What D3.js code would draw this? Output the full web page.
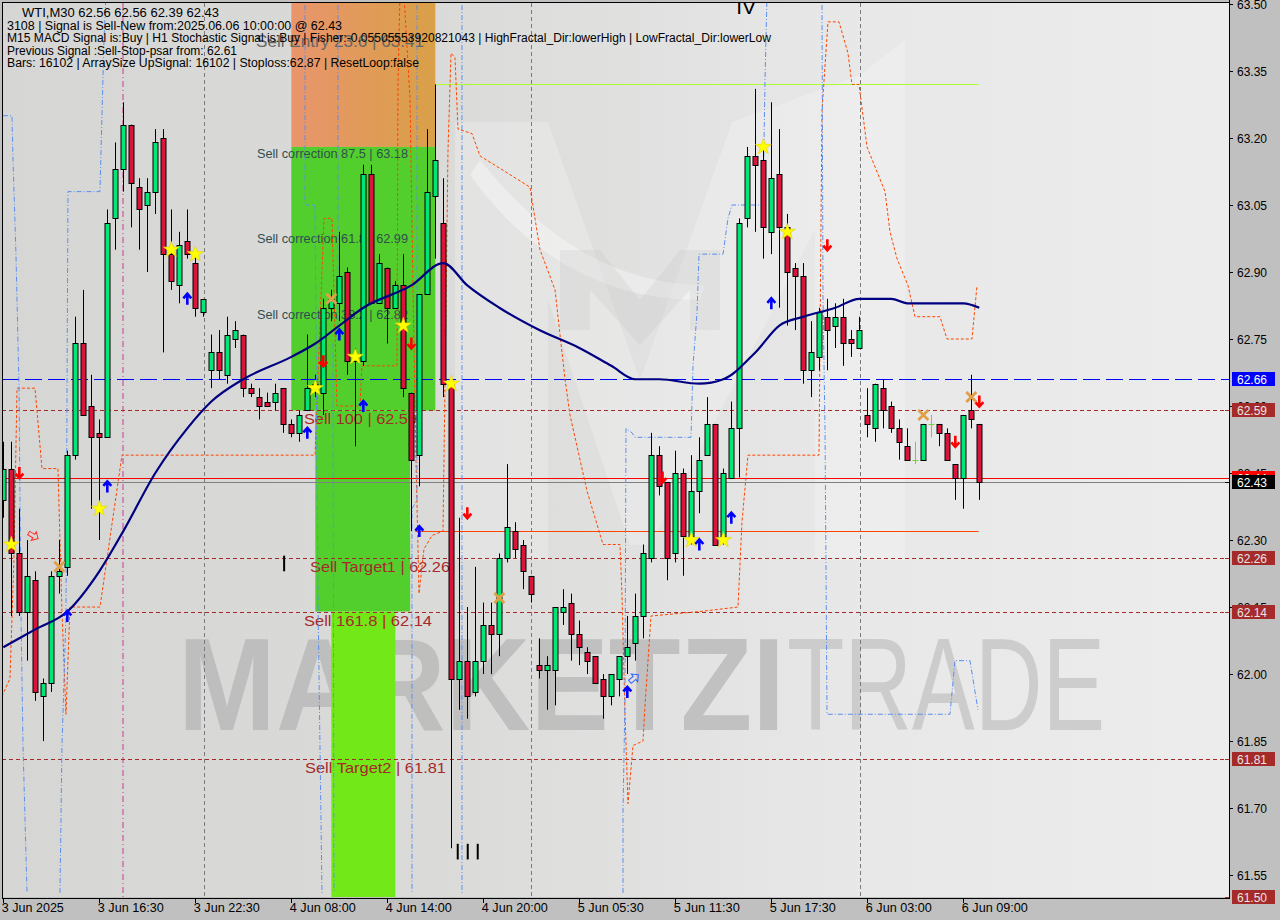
<!DOCTYPE html>
<html><head><meta charset="utf-8">
<script src="https://cdn.jsdelivr.net/npm/d3@7"></script>
<style>html,body{margin:0;padding:0;background:#c0c0c0;overflow:hidden}svg{display:block}</style>
</head><body>
<svg id="c" width="1280" height="920"></svg>
<script>
// ---------- DATA ----------
const open=[62.39,62.46,62.27,62.14,62.21,61.95,61.98,62.22,62.24,62.49,62.74,62.60,62.54,62.53,63.02,63.13,63.23,63.09,63.05,63.08,63.20,62.94,62.87,62.97,62.92,62.81,62.68,62.72,62.67,62.75,62.76,62.64,62.62,62.61,62.61,62.64,62.56,62.54,62.59,62.64,62.63,62.82,62.83,62.90,62.70,62.70,63.12,62.83,62.91,62.82,62.87,62.63,62.49,62.85,63.07,63.01,62.65,61.99,62.03,61.96,62.03,62.11,62.09,62.26,62.32,62.29,62.22,62.02,62.01,62.01,62.14,62.16,62.09,62.05,62.04,61.99,61.95,61.99,62.04,62.07,62.13,62.26,62.49,62.43,62.27,62.45,62.31,62.41,62.49,62.56,62.31,62.44,62.55,63.02,63.16,63.15,62.99,63.12,63.00,62.91,62.89,62.68,62.71,62.80,62.78,62.80,62.75,62.73,62.58,62.55,62.64,62.60,62.55,62.51,62.48,62.48,62.56,62.56,62.54,62.47,62.44,62.59,62.56];
const high=[62.52,62.52,62.37,62.30,62.23,61.99,62.23,62.30,62.50,62.80,62.86,62.67,62.57,63.04,63.19,63.28,63.23,63.11,63.11,63.22,63.22,63.04,62.99,63.04,62.94,62.84,62.76,62.77,62.80,62.79,62.76,62.65,62.64,62.63,62.65,62.64,62.57,62.59,62.76,62.67,62.84,62.86,62.99,62.91,62.73,63.14,63.14,62.94,62.91,62.88,62.94,62.63,62.85,63.22,63.32,63.11,62.66,62.35,62.15,62.24,62.16,62.16,62.27,62.47,62.34,62.30,62.22,62.08,62.04,62.15,62.19,62.18,62.12,62.06,62.04,62.00,62.00,62.04,62.13,62.18,62.29,62.54,62.51,62.43,62.50,62.46,62.49,62.53,62.62,62.56,62.46,62.61,63.02,63.18,63.31,63.18,63.28,63.22,63.03,62.92,62.92,62.79,62.82,62.84,62.83,62.84,62.77,62.80,62.64,62.65,62.66,62.61,62.57,62.55,62.52,62.56,62.58,62.56,62.55,62.47,62.58,62.67,62.56];
const low=[62.35,62.13,62.13,62.03,61.94,61.85,61.96,62.18,62.22,62.48,62.58,62.37,62.30,62.53,62.95,63.08,63.00,62.95,62.90,63.03,62.72,62.86,62.83,62.93,62.80,62.80,62.64,62.66,62.65,62.73,62.62,62.62,62.57,62.60,62.59,62.54,62.53,62.52,62.59,62.62,62.58,62.79,62.79,62.67,62.51,62.69,62.83,62.83,62.74,62.82,62.62,62.32,62.42,62.85,62.93,62.62,61.61,61.92,61.90,61.95,62.00,62.00,62.04,62.25,62.26,62.19,62.16,61.99,61.92,61.93,62.11,62.03,62.02,62.00,61.98,61.90,61.93,61.95,62.00,62.03,62.08,62.25,62.40,62.21,62.25,62.22,62.29,62.36,62.49,62.29,62.29,62.44,62.44,63.00,62.99,62.93,62.94,62.82,62.78,62.77,62.65,62.62,62.68,62.68,62.73,62.69,62.71,62.73,62.53,62.52,62.55,62.54,62.48,62.48,62.47,62.48,62.53,62.51,62.48,62.39,62.37,62.55,62.39];
const close=[62.46,62.27,62.14,62.22,61.96,61.98,62.22,62.23,62.49,62.74,62.58,62.53,62.53,63.01,63.13,63.23,63.10,63.04,63.08,63.19,62.94,62.88,62.96,62.94,62.82,62.84,62.72,62.68,62.76,62.77,62.64,62.63,62.60,62.60,62.63,62.56,62.54,62.58,62.64,62.65,62.82,62.84,62.89,62.70,62.71,63.12,62.83,62.92,62.82,62.87,62.64,62.48,62.85,63.08,63.15,62.65,61.99,62.03,61.95,62.03,62.11,62.09,62.26,62.33,62.28,62.23,62.18,62.01,62.02,62.15,62.15,62.09,62.06,62.03,61.98,61.95,62.00,62.04,62.06,62.13,62.27,62.49,62.42,62.26,62.45,62.31,62.41,62.48,62.56,62.29,62.45,62.55,63.01,63.16,63.14,63.00,63.11,63.00,62.90,62.89,62.68,62.72,62.81,62.77,62.80,62.74,62.74,62.77,62.56,62.65,62.59,62.55,62.52,62.48,62.48,62.56,62.56,62.54,62.48,62.44,62.58,62.57,62.43];

const timeLabels=["3 Jun 2025","3 Jun 16:30","3 Jun 22:30","4 Jun 08:00","4 Jun 14:00","4 Jun 20:00","5 Jun 05:30","5 Jun 11:30","5 Jun 17:30","6 Jun 03:00","6 Jun 09:00"];
const timeLabelBars=[0,12,24,36,48,60,72,84,96,108,120];
const priceTicks=[61.55,61.70,61.85,62.00,62.15,62.30,62.45,62.60,62.75,62.90,63.05,63.20,63.35,63.50];

// moving average (bar, value)
const maBars=[0,4,8,12,15,19,23,26,30,36,39,42,45,51,55,58,62,67,72,76,79,82,87,90,94,97,100,104,107,111,113,120,122];
const maVals=[62.06,62.10,62.14,62.23,62.32,62.45,62.55,62.61,62.66,62.71,62.74,62.78,62.82,62.87,62.92,62.87,62.82,62.77,62.73,62.69,62.66,62.66,62.65,62.66,62.72,62.78,62.80,62.82,62.84,62.84,62.83,62.83,62.82];

// orange dashed band (bar, price)
const bandBars=[-0.17,0.83,1.33,1.71,3.96,4.83,6.83,7.33,7.83,8.33,12.08,14.83,38.96,40.08,41.08,41.71,44.58,44.83,49.21,49.33,49.58,50.08,50.83,51.21,51.58,51.96,52.58,53.58,54.96,55.21,55.58,55.96,56.46,56.83,58.58,59.58,65.83,67.08,68.96,70.21,70.83,71.71,72.96,74.96,77.08,77.33,77.71,78.08,78.71,79.96,80.21,80.96,87.08,91.83,92.33,93.08,101.96,102.33,103.08,104.46,105.58,106.08,106.96,107.96,110.21,110.83,111.71,113.08,113.96,117.08,117.96,121.08,121.71];
const bandVals=[61.95,61.99,62.26,62.64,62.64,62.46,62.46,62.14,61.91,62.15,62.15,62.49,62.49,63.02,63.02,62.60,62.60,62.69,62.69,63.32,63.52,63.52,63.29,62.86,62.48,62.18,62.28,62.31,62.32,62.65,63.17,63.39,63.38,63.22,63.21,63.16,63.09,62.95,62.86,62.66,62.58,62.51,62.41,62.29,62.29,62.18,61.91,61.71,61.84,61.85,61.93,62.13,62.14,62.15,62.34,62.49,62.49,63.26,63.46,63.46,63.39,63.32,63.32,63.18,63.08,62.99,62.93,62.87,62.80,62.80,62.75,62.75,62.87];

// blue fractal step lines (bar, price), null = break
const fracBars=[-0.04,1.08,1.21,1.58,1.96,2.21,2.46,2.96,null,7.08,7.33,7.83,8.08,12.08,12.21,12.58,12.83,null,37.71,37.71,38.96,39.33,39.83,null,41.83,41.83,41.21,41.33,null,51.71,51.71,51.08,51.08,null,57.33,57.33,null,77.46,77.46,77.71,77.83,78.58,78.96,85.96,86.21,86.71,86.96,89.96,90.58,91.08,94.96,95.21,95.46,null,102.33,102.46,102.71,102.96,118.33,118.96,120.83,121.83];
const fracVals=[63.25,63.25,63.15,62.94,62.64,62.13,61.84,61.51,null,61.51,61.84,62.13,63.08,63.08,63.17,63.42,63.52,null,63.52,63.05,63.05,62.17,61.51,null,63.52,62.75,62.74,61.51,null,63.52,62.39,62.37,61.51,null,63.52,61.51,null,61.51,61.69,61.95,62.55,62.54,62.53,62.53,62.69,62.81,62.94,62.94,63.02,63.05,63.05,63.33,63.52,null,63.52,62.84,62.55,61.91,61.91,62.03,62.03,61.92];

// signals
const starBars=[1,12,21,24,39,44,50,56,86,90,95,98];
const starVals=[62.29,62.37,62.95,62.94,62.64,62.71,62.78,62.65,62.30,62.30,63.18,62.99];
const upBars=[8,13,23,38,42,45,52,78,87,91,96];
const upVals=[62.13,62.42,62.84,62.54,62.76,62.60,62.32,61.96,62.29,62.35,62.83];
const downBars=[2,40,51,58,82.4,103,119,122];
const downVals=[62.45,62.70,62.74,62.36,62.44,62.96,62.52,62.61];
const crossBars=[7,41,62,115,121];
const crossVals=[62.24,62.84,62.17,62.58,62.62];

// levels
const levelPrices=[62.66,62.59,62.26,62.14,61.81,61.50];
const levelKinds=["blue","brown","brown","brown","brown","brown"];
const bidPrice=62.43, askLine=62.44;
const stopLevel=62.32, entryLevel=63.32;
const boxBars=[[36,54],[36,54],[39,50.85],[41,49]];
const boxTops=[63.70,63.18,62.59,62.14];
const boxBottoms=[63.18,62.59,62.14,61.45];
const fibTexts=["Sell Entry 23.6 | 63.41","Sell correction 87.5 | 63.18","Sell correction 61.8 | 62.99","Sell correction 38.2 | 62.82"];
const fibPrices=[63.41,63.18,62.99,62.82];
const tgtTexts=["Sell 100 | 62.59","Sell Target1 | 62.26","Sell 161.8 | 62.14","Sell Target2 | 61.81"];
const tgtPrices=[62.59,62.26,62.14,61.81];
const axisMarks=[62.66,62.59,62.44,62.43,62.26,62.14,61.81,61.50];
const axisMarkKinds=["blue","brown","red","black","brown","brown","brown","brown"];
const headerLines=["WTI,M30  62.56 62.56 62.39 62.43","3108 | Signal is Sell-New from:2025.06.06 10:00:00 @ 62.43","M15 MACD Signal is:Buy | H1 Stochastic Signal is:Buy | Fisher:-0.05505553920821043 | HighFractal_Dir:lowerHigh | LowFractal_Dir:lowerLow","Previous Signal :Sell-Stop-psar from: 62.61","Bars: 16102 | ArraySize UpSignal: 16102 | Stoploss:62.87 | ResetLoop:false"];

// ---------- DRAW ----------
const svg=d3.select("#c");
const PL=2,PT=3,PR=1229,PB=897;
const x=d3.scaleLinear().domain([0,122]).range([3.33,979.33]);
const y=d3.scaleLinear().domain([61.5,63.5]).range([897.4,4]);
const FONT="'Liberation Sans', Arial, sans-serif";

const defs=svg.append("defs");
defs.append("clipPath").attr("id","plot").append("rect").attr("x",PL).attr("y",PT).attr("width",PR-PL).attr("height",PB-PT);
const bgGrad=defs.append("linearGradient").attr("id","bg").attr("x1","0").attr("x2","1").attr("y1","0").attr("y2","0");
bgGrad.append("stop").attr("offset","0").attr("stop-color","#d6d6d5");
bgGrad.append("stop").attr("offset","0.35").attr("stop-color","#dadad9");
bgGrad.append("stop").attr("offset","0.7").attr("stop-color","#e8e8e8");
bgGrad.append("stop").attr("offset","1").attr("stop-color","#ececec");
const orGrad=defs.append("linearGradient").attr("id","org").attr("x1","0").attr("x2","1").attr("y1","0").attr("y2","0");
orGrad.append("stop").attr("offset","0").attr("stop-color","#e9956c");
orGrad.append("stop").attr("offset","1").attr("stop-color","#d9a048");

svg.append("rect").attr("x",0).attr("y",0).attr("width",1280).attr("height",920).attr("fill","#c0c0c0");
const g=svg.append("g").attr("clip-path","url(#plot)");
g.append("rect").attr("x",PL).attr("y",PT).attr("width",PR-PL).attr("height",PB-PT).attr("fill","url(#bg)");

// watermark logo (soft)
g.append("path").attr("d","M455,560 L455,122 L548,122 L640,380 L732,122 L860,75 L905,40 L905,560 L815,560 L815,230 L650,545 L630,545 L548,300 L548,560 Z")
 .attr("fill","#ffffff").attr("opacity",0.22);
g.append("path").attr("d","M470,175 Q560,300 700,300 L705,285 Q580,285 480,160 Z").attr("fill","#ffffff").attr("opacity",0.35);
g.append("path").attr("d","M560,330 L560,250 L600,250 L640,300 L680,250 L720,250 L720,330 L690,330 L690,290 L640,345 L590,290 L590,330 Z")
 .attr("fill","#bdbdbd").attr("opacity",0.22);
g.append("text").attr("x",178).attr("y",730).attr("font-family",FONT).attr("font-weight","bold").attr("font-size",132)
 .attr("textLength",607).attr("lengthAdjust","spacingAndGlyphs").attr("fill","#b6b6b6").attr("opacity",0.75).text("MARKETZI");
g.append("text").attr("x",787).attr("y",730).attr("font-family",FONT).attr("font-size",132)
 .attr("textLength",318).attr("lengthAdjust","spacingAndGlyphs").attr("fill","#c6c6c6").attr("opacity",0.8).text("TRADE");

// boxes
const boxFills=["url(#org)","#52cf2c","#52cf2c","#72e818"];
boxBars.forEach((b,i)=>{
  g.append("rect").attr("x",x(b[0])).attr("width",x(b[1])-x(b[0])).attr("y",y(boxTops[i])).attr("height",y(boxBottoms[i])-y(boxTops[i])).attr("fill",boxFills[i]);
});

// texts on boxes
fibTexts.forEach((t,i)=>{
  const big=i===0;
  g.append("text").attr("x",big?256:257).attr("y",y(fibPrices[i])+(big?3:11)).attr("font-family",FONT)
   .attr("font-size",big?16:13).attr("fill",big?"#666":"#2f4f4f")
   .attr("textLength",big?168:151).attr("lengthAdjust","spacingAndGlyphs").text(t);
});
const tgtX=[304,310,304,305], tgtW=[113,140,128,141];
tgtTexts.forEach((t,i)=>{
  g.append("text").attr("x",tgtX[i]).attr("y",y(tgtPrices[i])+14).attr("font-family",FONT).attr("font-size",15)
   .attr("fill","#a52a2a").attr("textLength",tgtW[i]).attr("lengthAdjust","spacingAndGlyphs").text(t);
});

// vertical separators
[25.08,65.96,107.08].forEach(k=>{
  g.append("line").attr("x1",Math.round(x(k))+0.5).attr("x2",Math.round(x(k))+0.5).attr("y1",PT).attr("y2",PB)
   .attr("stroke","#7a7a7a").attr("stroke-dasharray","4,3").attr("stroke-width",1);
});
g.append("line").attr("x1",x(14.96)).attr("x2",x(14.96)).attr("y1",PT).attr("y2",PB).attr("stroke","#c71585").attr("stroke-dasharray","6,3,1,3").attr("opacity",0.8);

// horizontal levels
levelPrices.forEach((p,i)=>{
  const yy=Math.round(y(p))+0.5;
  if(levelKinds[i]==="blue")
    g.append("line").attr("x1",PL).attr("x2",PR).attr("y1",yy).attr("y2",yy).attr("stroke","#0000ff").attr("stroke-width",1.2).attr("stroke-dasharray","17,6").attr("shape-rendering","crispEdges");
  else
    g.append("line").attr("x1",PL).attr("x2",PR).attr("y1",yy).attr("y2",yy).attr("stroke","#a52a2a").attr("stroke-dasharray","4,3").attr("shape-rendering","crispEdges");
});
g.append("line").attr("x1",PL).attr("x2",PR).attr("y1",Math.round(y(askLine))+0.5).attr("y2",Math.round(y(askLine))+0.5).attr("stroke","#ff0000");
g.append("line").attr("x1",PL).attr("x2",PR).attr("y1",Math.round(y(bidPrice))+0.5).attr("y2",Math.round(y(bidPrice))+0.5).attr("stroke","#808080");
g.append("line").attr("x1",x(51.5)).attr("x2",x(121.9)).attr("y1",Math.round(y(stopLevel))+0.5).attr("y2",Math.round(y(stopLevel))+0.5).attr("stroke","#ff4500");
g.append("line").attr("x1",x(54)).attr("x2",x(121.9)).attr("y1",Math.round(y(entryLevel))+0.5).attr("y2",Math.round(y(entryLevel))+0.5).attr("stroke","#adff2f");

// step lines
const bandLine=d3.line().x(d=>x(d[0])).y(d=>y(d[1]));
g.append("path").attr("d",bandLine(bandBars.map((k,i)=>[k,bandVals[i]]))).attr("fill","none").attr("stroke","#ff4500").attr("stroke-width",1).attr("stroke-dasharray","3,2");
const fracLine=d3.line().defined(d=>d[0]!==null).x(d=>x(d[0])).y(d=>y(d[1]));
g.append("path").attr("d",fracLine(fracBars.map((k,i)=>[k,fracVals[i]]))).attr("fill","none").attr("stroke","#5b8ff0").attr("stroke-width",1).attr("stroke-dasharray","5,2,1,2");

// candles
const idx=d3.range(open.length);
idx.forEach(i=>{
  const cx=Math.round(x(i))+0.5;
  const o=open[i],c=close[i];
  const doji=Math.abs(o-c)<0.001;
  g.append("line").attr("x1",cx).attr("x2",cx).attr("y1",y(high[i])).attr("y2",y(low[i])).attr("stroke",doji?"#7ccd3c":"#000").attr("stroke-width",1);
  if(doji){
    g.append("line").attr("x1",cx-3).attr("x2",cx+3).attr("y1",Math.round(y(o))+0.5).attr("y2",Math.round(y(o))+0.5).attr("stroke","#7ccd3c");
  } else {
    const top=Math.round(y(Math.max(o,c)))+0.5, bot=Math.round(y(Math.min(o,c)))+0.5;
    g.append("rect").attr("x",cx-2.5).attr("width",5).attr("y",top).attr("height",Math.max(1,bot-top))
     .attr("fill",c>o?"#00e676":"#dc143c").attr("stroke","#000").attr("stroke-width",1);
  }
});

// moving average
const maLine=d3.line().x(d=>x(d[0])).y(d=>y(d[1])).curve(d3.curveMonotoneX);
g.append("path").attr("d",maLine(maBars.map((k,i)=>[k,maVals[i]]))).attr("fill","none").attr("stroke","#000080").attr("stroke-width",2.2);

// markers
const star=d3.symbol().type(d3.symbolStar).size(80);
starBars.forEach((k,i)=>{
  g.append("path").attr("d",star()).attr("transform",`translate(${x(k)},${y(starVals[i])})`).attr("fill","#ffff00").attr("stroke","#e8d000").attr("stroke-width",0.6);
});
upBars.forEach((k,i)=>{
  g.append("path").attr("d","M-4,-0.5 L0,-5 L4,-0.5 M0,-5 L0,6").attr("transform",`translate(${x(k)},${y(upVals[i])})`)
   .attr("fill","none").attr("stroke","#0000ff").attr("stroke-width",2.6);
});
downBars.forEach((k,i)=>{
  g.append("path").attr("d","M-4,0.5 L0,5 L4,0.5 M0,5 L0,-6").attr("transform",`translate(${x(k)},${y(downVals[i])})`)
   .attr("fill","none").attr("stroke","#ff0000").attr("stroke-width",2.6);
});
crossBars.forEach((k,i)=>{
  g.append("path").attr("d","M-5,-5 L5,5 M5,-5 L-5,5").attr("transform",`translate(${x(k)},${y(crossVals[i])})`)
   .attr("fill","none").attr("stroke","#e0a048").attr("stroke-width",2.8);
});
// hollow signal arrows
g.append("path").attr("d","M-5,-2 L1,-2 L1,-5 L6,0 L1,5 L1,2 L-5,2 Z").attr("transform",`translate(${x(3.7)},${y(62.31)}) rotate(30)`).attr("fill","none").attr("stroke","#ff3030").attr("stroke-width",1);
g.append("path").attr("d","M-5,-2 L1,-2 L1,-5 L6,0 L1,5 L1,2 L-5,2 Z").attr("transform",`translate(${x(78.8)},${y(61.99)}) rotate(-40)`).attr("fill","none").attr("stroke","#3060ff").attr("stroke-width",1);
// black tick glyphs
[[35.1,62.265,62.23],[56.8,61.62,61.585],[58.05,61.62,61.585],[59.3,61.62,61.585]].forEach(t=>{
  g.append("line").attr("x1",x(t[0])).attr("x2",x(t[0])).attr("y1",y(t[1])).attr("y2",y(t[2])).attr("stroke","#000").attr("stroke-width",2);
});
g.append("text").attr("x",x(91.6)).attr("y",14).attr("font-family",FONT).attr("font-size",21).attr("fill","#000").text("IV");

// header
const hdrX=[22,7,7,7,7], hdrY=[17,29.5,42,54.5,66.5], hdrW=[197,335,764,230,412];
headerLines.forEach((t,i)=>{
  svg.append("text").attr("x",hdrX[i]).attr("y",hdrY[i]).attr("font-family",FONT).attr("font-size",12).attr("fill","#000")
   .attr("textLength",hdrW[i]).attr("lengthAdjust","spacingAndGlyphs").text(t);
});

// frame
svg.append("line").attr("x1",PL).attr("x2",PR+1).attr("y1",2.5).attr("y2",2.5).attr("stroke","#000");
svg.append("line").attr("x1",2.5).attr("x2",2.5).attr("y1",PT).attr("y2",PB+1).attr("stroke","#000");
svg.append("line").attr("x1",PR+0.5).attr("x2",PR+0.5).attr("y1",0).attr("y2",PB+1).attr("stroke","#000");
svg.append("line").attr("x1",PL).attr("x2",PR+1).attr("y1",PB+1.5).attr("y2",PB+1.5).attr("stroke","#000");

// right axis
const ax=svg.append("g");
priceTicks.forEach(p=>{
  const yy=Math.round(y(p))+0.5;
  ax.append("line").attr("x1",PR).attr("x2",PR+4).attr("y1",yy).attr("y2",yy).attr("stroke","#000");
  ax.append("text").attr("x",1237).attr("y",yy+4).attr("font-family",FONT).attr("font-size",12).attr("fill","#000").text(p.toFixed(2));
});
const markFill={blue:"#0000ff",brown:"#a52a2a",red:"#ff0000",black:"#000000"};
const markText={blue:"#ffffff",brown:"#e6e6e6",red:"#ffffff",black:"#ffffff"};
axisMarks.forEach((p,i)=>{
  const yy=Math.round(y(p));
  const k=axisMarkKinds[i];
  ax.append("line").attr("x1",PR-4).attr("x2",PR).attr("y1",yy+0.5).attr("y2",yy+0.5).attr("stroke",markFill[k]);
  ax.append("rect").attr("x",1232).attr("y",yy-7).attr("width",43).attr("height",14).attr("fill",markFill[k]);
  ax.append("text").attr("x",1237).attr("y",yy+4.5).attr("font-family",FONT).attr("font-size",12).attr("fill",markText[k]).text(p.toFixed(2));
});

// bottom axis
timeLabelBars.forEach((k,i)=>{
  const xx=Math.round(x(k))+0.5;
  svg.append("line").attr("x1",xx).attr("x2",xx).attr("y1",PB+2).attr("y2",PB+6).attr("stroke","#000");
  svg.append("text").attr("x",x(k)-1.5).attr("y",912).attr("font-family",FONT).attr("font-size",12).attr("fill","#000")
   .attr("textLength",i===0?62:66).attr("lengthAdjust","spacingAndGlyphs").text(timeLabels[i]);
});
</script>
</body></html>
